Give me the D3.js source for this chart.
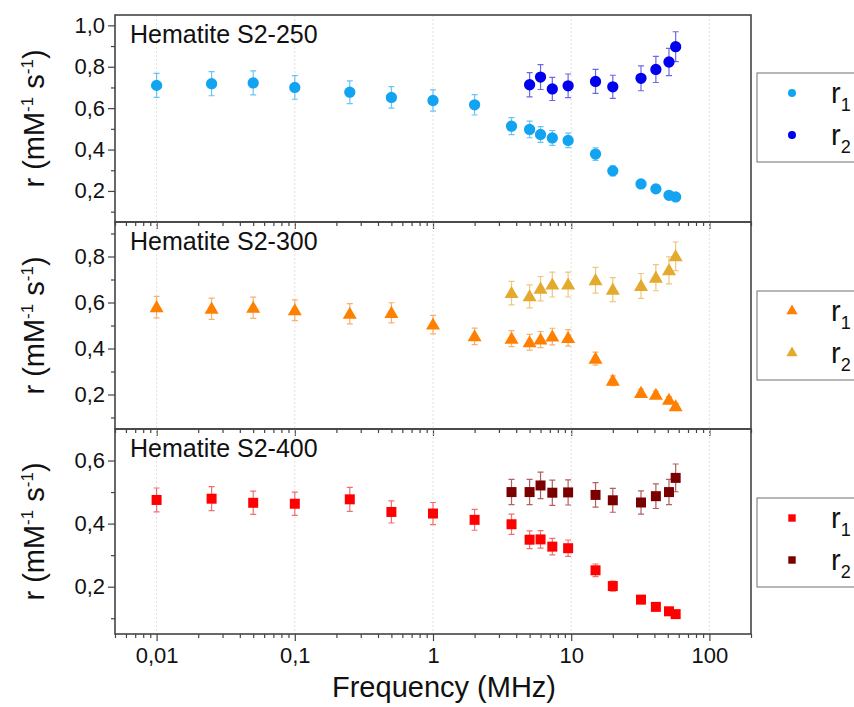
<!DOCTYPE html>
<html>
<head>
<meta charset="utf-8">
<script src="https://cdn.jsdelivr.net/npm/d3@7"></script>
<style>
  body { margin: 0; background: #fff; }
  svg { display: block; }
  svg text { font-family: "Liberation Sans", Arial, sans-serif; }
</style>
</head>
<body>
<div id="chart"></div>
<script>
// Frequencies (MHz)
const freqR1 = [0.01, 0.025, 0.05, 0.1, 0.25, 0.5, 1, 2, 3.7, 5, 6, 7.3, 9.5, 15, 20, 32, 41, 51, 57];
const freqR2Top = [5, 6, 7.3, 9.5, 15, 20, 32, 41, 51, 57];
const freqR2 = [3.7, 5, 6, 7.3, 9.5, 15, 20, 32, 41, 51, 57];

// Hematite S2-250
const s250r1 = [0.710, 0.718, 0.722, 0.700, 0.677, 0.652, 0.637, 0.616, 0.513, 0.497, 0.473, 0.456, 0.444, 0.378, 0.297, 0.234, 0.210, 0.179, 0.171];
const s250r1Err = [0.058, 0.058, 0.058, 0.057, 0.055, 0.052, 0.051, 0.049, 0.041, 0.040, 0.038, 0.036, 0.035, 0.030, 0.024, 0.019, 0.017, 0.014, 0.014];
const s250r2 = [0.713, 0.750, 0.693, 0.708, 0.729, 0.703, 0.744, 0.787, 0.823, 0.897];
const s250r2Err = [0.059, 0.060, 0.056, 0.057, 0.058, 0.056, 0.060, 0.063, 0.066, 0.072];

// Hematite S2-300
const s300r1 = [0.580, 0.573, 0.577, 0.566, 0.551, 0.555, 0.504, 0.453, 0.443, 0.427, 0.439, 0.452, 0.446, 0.356, 0.260, 0.207, 0.199, 0.177, 0.149];
const s300r1Err = [0.047, 0.046, 0.046, 0.045, 0.044, 0.044, 0.040, 0.036, 0.035, 0.034, 0.035, 0.036, 0.036, 0.028, 0.021, 0.017, 0.016, 0.014, 0.012];
const s300r2 = [0.641, 0.627, 0.660, 0.678, 0.678, 0.697, 0.656, 0.672, 0.708, 0.740, 0.801];
const s300r2Err = [0.051, 0.050, 0.053, 0.054, 0.054, 0.056, 0.052, 0.054, 0.057, 0.059, 0.062];

// Hematite S2-400
const s400r1 = [0.475, 0.479, 0.466, 0.463, 0.477, 0.437, 0.432, 0.412, 0.398, 0.349, 0.350, 0.327, 0.322, 0.252, 0.202, 0.159, 0.136, 0.122, 0.113];
const s400r1Err = [0.038, 0.038, 0.037, 0.037, 0.038, 0.035, 0.035, 0.033, 0.032, 0.028, 0.028, 0.026, 0.026, 0.020, 0.016, 0.013, 0.011, 0.010, 0.009];
const s400r2 = [0.500, 0.500, 0.521, 0.498, 0.499, 0.491, 0.474, 0.467, 0.487, 0.500, 0.545];
const s400r2Err = [0.040, 0.040, 0.042, 0.040, 0.040, 0.039, 0.038, 0.037, 0.039, 0.040, 0.044];

const xTicks = [0.01, 0.1, 1, 10, 100];
const xTickLabels = ['0,01', '0,1', '1', '10', '100'];

const width = 854;
const height = 707;
const left = 115;
const right = 751;

const x = d3.scaleLog().domain([0.005, 200]).range([left, right]);

const panels = [
  { title: 'Hematite S2-250', top: 15, bottom: 222, domain: [0.05, 1.05], ticks: [0.2, 0.4, 0.6, 0.8, 1.0],
    symbol: d3.symbolCircle, size: 100, legendSize: 50, legendTop: 73,
    series: [
      { name: '1', f: freqR1, v: s250r1, e: s250r1Err, color: '#12a4f0', errColor: '#6cc4f4' },
      { name: '2', f: freqR2Top, v: s250r2, e: s250r2Err, color: '#0000ee', errColor: '#6a6ae0' }
    ] },
  { title: 'Hematite S2-300', top: 222, bottom: 429, domain: [0.05, 0.95], ticks: [0.2, 0.4, 0.6, 0.8],
    symbol: d3.symbolTriangle, size: 85, legendSize: 55, legendTop: 291,
    series: [
      { name: '1', f: freqR1, v: s300r1, e: s300r1Err, color: '#ff8000', errColor: '#f8b070' },
      { name: '2', f: freqR2, v: s300r2, e: s300r2Err, color: '#e4aa2e', errColor: '#ecc880' }
    ] },
  { title: 'Hematite S2-400', top: 429, bottom: 634, domain: [0.05, 0.7], ticks: [0.2, 0.4, 0.6],
    symbol: d3.symbolSquare, size: 100, legendSize: 55, legendTop: 498,
    series: [
      { name: '1', f: freqR1, v: s400r1, e: s400r1Err, color: '#ff0000', errColor: '#f07070' },
      { name: '2', f: freqR2, v: s400r2, e: s400r2Err, color: '#7a0000', errColor: '#b06060' }
    ] }
];

const svg = d3.select('#chart').append('svg')
  .attr('width', width)
  .attr('height', height);

const fmt = d => d3.format('.1f')(d).replace('.', ',');

panels.forEach((p, pi) => {
  const y = d3.scaleLinear().domain(p.domain).range([p.bottom, p.top]);
  const g = svg.append('g');

  // vertical dotted grid at decades
  g.selectAll('.grid')
    .data(xTicks)
    .enter().append('line')
    .attr('x1', d => x(d)).attr('x2', d => x(d))
    .attr('y1', p.top).attr('y2', p.bottom)
    .style('stroke', '#e2e2e2')
    .style('stroke-width', 1)
    .style('stroke-dasharray', '2,2');

  // x axis (bottom of each panel), minor ticks
  const minor = [];
  [0.001, 0.01, 0.1, 1, 10, 100].forEach(dec => {
    for (let k = 2; k <= 9; k++) {
      const v = dec * k;
      if (v >= 0.005 && v <= 200) minor.push(v);
    }
  });
  g.append('g')
    .attr('transform', `translate(0,${p.bottom})`)
    .call(d3.axisBottom(x).tickValues(minor).tickSize(4).tickFormat(''))
    .call(a => a.select('.domain').remove())
    .call(a => a.selectAll('line').style('stroke', '#444').style('stroke-width', 1.2));

  g.append('g')
    .attr('transform', `translate(0,${p.bottom})`)
    .call(d3.axisBottom(x).tickValues(xTicks).tickSize(7)
      .tickFormat((d, i) => pi === 2 ? xTickLabels[i] : ''))
    .call(a => a.select('.domain').remove())
    .call(a => a.selectAll('line').style('stroke', '#444').style('stroke-width', 1.2))
    .call(a => a.selectAll('text').style('font-size', '22px').style('fill', '#111')
      .attr('y', 13).attr('dy', '0.71em'));

  // y axis
  const yMinorVals = d3.range(0.1, p.domain[1], 0.2).filter(v => v > p.domain[0]);
  g.append('g')
    .attr('transform', `translate(${left},0)`)
    .call(d3.axisLeft(y).tickValues(yMinorVals).tickSize(4).tickFormat(''))
    .call(a => a.select('.domain').remove())
    .call(a => a.selectAll('line').style('stroke', '#444').style('stroke-width', 1.2));

  g.append('g')
    .attr('transform', `translate(${left},0)`)
    .call(d3.axisLeft(y).tickValues(p.ticks).tickSize(7).tickFormat(fmt))
    .call(a => a.select('.domain').remove())
    .call(a => a.selectAll('line').style('stroke', '#444').style('stroke-width', 1.2))
    .call(a => a.selectAll('text').style('font-size', '22px').style('fill', '#111').attr('x', -10));

  // frame
  g.append('rect')
    .attr('x', left).attr('y', p.top)
    .attr('width', right - left).attr('height', p.bottom - p.top)
    .style('fill', 'none')
    .style('stroke', '#444')
    .style('stroke-width', 1.6);

  // panel title
  g.append('text')
    .attr('x', 130)
    .attr('y', p.top + 28)
    .style('font-size', '25px')
    .style('fill', '#111')
    .text(p.title);

  // y axis label
  const yl = g.append('text')
    .attr('transform', `translate(44,${(p.top + p.bottom) / 2}) rotate(-90)`)
    .attr('text-anchor', 'middle')
    .style('font-size', '29px')
    .style('fill', '#111');
  yl.append('tspan').text('r (mM');
  yl.append('tspan').attr('dy', -11).style('font-size', '17px').text('-1');
  yl.append('tspan').attr('dy', 11).text(' s');
  yl.append('tspan').attr('dy', -11).style('font-size', '17px').text('-1');
  yl.append('tspan').attr('dy', 11).text(')');

  // data: error bars then markers
  p.series.forEach(s => {
    const pts = s.f.map((f, i) => ({ f: f, v: s.v[i], e: s.e[i] }));
    g.append('g').selectAll('.bar')
      .data(pts)
      .enter().append('path')
      .attr('d', d => {
        const cx = x(d.f), y0 = y(d.v - d.e), y1 = y(d.v + d.e);
        return `M${cx},${y0}V${y1}M${cx - 3},${y0}H${cx + 3}M${cx - 3},${y1}H${cx + 3}`;
      })
      .style('fill', 'none')
      .style('stroke', s.errColor)
      .style('stroke-width', 1.2);
  });
  p.series.forEach(s => {
    const pts = s.f.map((f, i) => ({ f: f, v: s.v[i] }));
    g.append('g').selectAll('.dot')
      .data(pts)
      .enter().append('path')
      .attr('d', d3.symbol().type(p.symbol).size(p.size))
      .attr('transform', d => `translate(${x(d.f)},${y(d.v) + (p.symbol === d3.symbolTriangle ? 1 : 0)})`)
      .style('fill', s.color);
  });

  // legend
  const lg = g.append('g').attr('transform', `translate(757,${p.legendTop})`);
  lg.append('rect')
    .attr('width', 110).attr('height', 89)
    .style('fill', '#fff')
    .style('stroke', '#888')
    .style('stroke-width', 1.2);
  p.series.forEach((s, i) => {
    const ly = 20 + i * 42;
    lg.append('path')
      .attr('d', d3.symbol().type(p.symbol).size(p.legendSize))
      .attr('transform', `translate(35,${ly})`)
      .style('fill', s.color);
    const t = lg.append('text')
      .attr('x', 74)
      .attr('y', ly + 10)
      .style('font-size', '29px')
      .style('fill', '#111');
    t.append('tspan').text('r');
    t.append('tspan').attr('dy', 8).style('font-size', '18px').text(s.name);
  });
});

// x axis title
svg.append('text')
  .attr('x', 444)
  .attr('y', 697)
  .attr('text-anchor', 'middle')
  .style('font-size', '29px')
  .style('fill', '#111')
  .text('Frequency (MHz)');
</script>
</body>
</html>
